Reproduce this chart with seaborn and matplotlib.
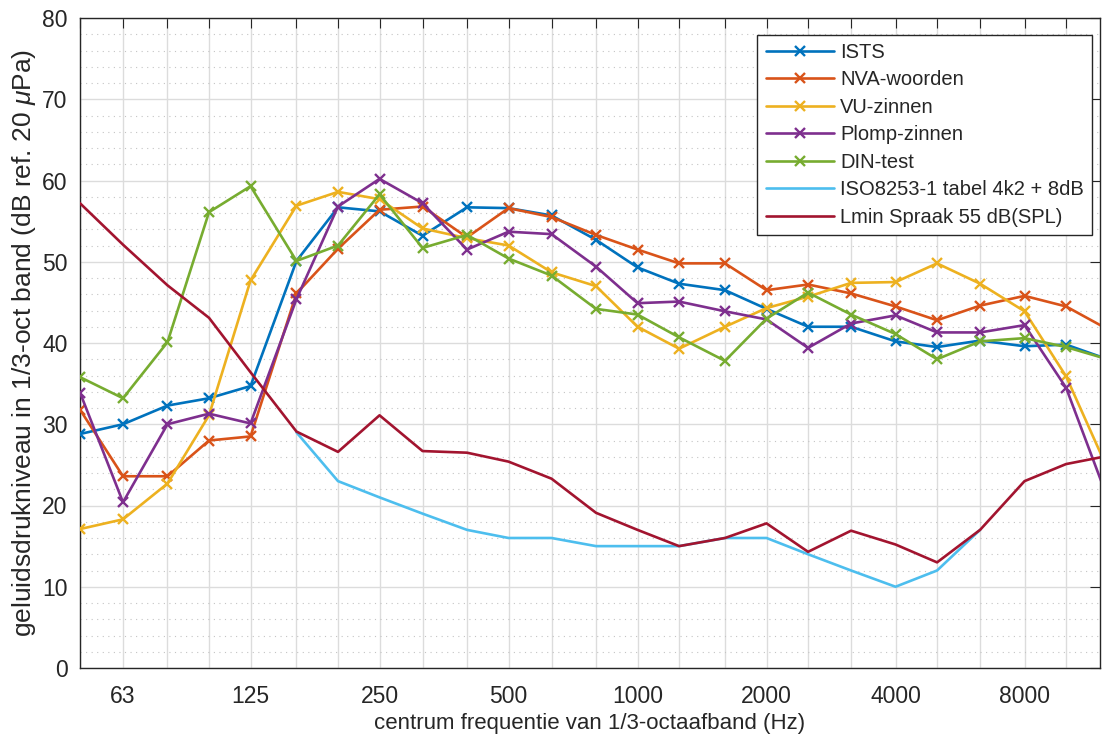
import matplotlib
matplotlib.use("Agg")
import matplotlib.pyplot as plt
from matplotlib.ticker import FixedLocator, FixedFormatter, MultipleLocator, NullLocator
import pandas as pd
import seaborn as sns

# 1/3-octave band centre frequencies (Hz)
freq = [50, 63, 80, 100, 125, 160, 200, 250, 315, 400, 500, 630, 800, 1000,
        1250, 1600, 2000, 2500, 3150, 4000, 5000, 6300, 8000, 10000, 12500]

# band levels in dB re 20 uPa
ists = [28.8, 30.0, 32.3, 33.2, 34.7, 50.1, 56.7, 56.2, 53.2, 56.7, 56.6, 55.7, 52.7,
        49.3, 47.3, 46.5, 44.2, 42.0, 42.0, 40.2, 39.5, 40.3, 39.6, 39.8, 38.0]
nva = [31.8, 23.6, 23.6, 28.0, 28.5, 46.1, 51.6, 56.4, 56.8, 53.0, 56.6, 55.5, 53.3,
       51.5, 49.8, 49.8, 46.5, 47.2, 46.1, 44.5, 42.8, 44.6, 45.8, 44.5, 41.7]
vu = [17.1, 18.3, 22.7, 31.1, 47.7, 56.9, 58.6, 57.7, 54.1, 52.9, 52.0, 48.7, 47.0,
      42.0, 39.3, 42.0, 44.3, 45.7, 47.4, 47.5, 49.8, 47.3, 43.9, 35.9, 24.5]
plomp = [33.9, 20.4, 30.0, 31.3, 30.1, 45.4, 56.8, 60.2, 57.2, 51.5, 53.7, 53.4, 49.4,
         44.9, 45.1, 43.9, 42.9, 39.4, 42.4, 43.4, 41.3, 41.3, 42.2, 34.5, 20.9]
din = [35.8, 33.2, 40.1, 56.1, 59.3, 50.1, 52.0, 58.3, 51.7, 53.3, 50.4, 48.3, 44.2,
       43.5, 40.7, 37.8, 43.0, 46.2, 43.5, 41.1, 38.0, 40.2, 40.6, 39.5, 38.0]
iso_freq = [160, 200, 250, 315, 400, 500, 630, 800, 1000, 1250, 1600, 2000, 2500,
            3150, 4000, 5000, 6300]
iso = [29, 23, 21, 19, 17, 16, 16, 15, 15, 15, 16, 16, 14, 12, 10, 12, 17]
lmin = [57.2, 52.1, 47.1, 43.1, 36.4, 29.1, 26.6, 31.1, 26.7, 26.5, 25.4, 23.3, 19.1,
        17.0, 15.0, 16.0, 17.8, 14.3, 16.9, 15.2, 13.0, 17.0, 23.0, 25.1, 26.1]

series_names = ["ISTS", "NVA-woorden", "VU-zinnen", "Plomp-zinnen", "DIN-test",
                "ISO8253-1 tabel 4k2 + 8dB", "Lmin Spraak 55 dB(SPL)"]
colors = ["#0072BD", "#D95319", "#EDB120", "#7E2F8E", "#77AC30", "#4DBEEE", "#A2142F"]

tick_freqs = freq[:-1]
octave_labels = {63: "63", 125: "125", 250: "250", 500: "500", 1000: "1000",
                 2000: "2000", 4000: "4000", 8000: "8000"}

sns.set_style("white")
plt.rcParams["font.family"] = ["Liberation Sans", "DejaVu Sans"]
plt.rcParams["mathtext.fontset"] = "custom"
plt.rcParams["mathtext.it"] = "Liberation Sans:italic"
plt.rcParams["mathtext.rm"] = "Liberation Sans"

fig = plt.figure(figsize=(11.02, 7.38), dpi=100)
ax = fig.add_axes([80 / 1102, 1 - 668 / 738, 1020 / 1102, 650 / 738])

ink = "#262626"
grid_major = "#dcdcdc"

data = [(freq, ists), (freq, nva), (freq, vu), (freq, plomp), (freq, din),
        (iso_freq, iso), (freq, lmin)]
for i, ((fx, fy), name, col) in enumerate(zip(data, series_names, colors)):
    df = pd.DataFrame({"f": fx, "L": fy})
    if i < 5:
        kw = dict(marker="x", markersize=7, markeredgewidth=1.7,
                  markeredgecolor=col, markerfacecolor=col)
    else:
        kw = dict(marker=None)
    sns.lineplot(data=df, x="f", y="L", ax=ax, color=col, linewidth=1.9,
                 label=name, sort=False, zorder=3 + i, **kw)

ax.set_xscale("log")
ax.set_xlim(50, 12000)
ax.set_ylim(0, 80)

ax.xaxis.set_major_locator(FixedLocator(tick_freqs))
ax.xaxis.set_major_formatter(FixedFormatter([octave_labels.get(f, "") for f in tick_freqs]))
ax.xaxis.set_minor_locator(NullLocator())
ax.yaxis.set_major_locator(MultipleLocator(10))
ax.yaxis.set_minor_locator(MultipleLocator(2))

ax.tick_params(which="major", direction="in", length=7.2, width=0.8, color=ink,
               labelcolor=ink, labelsize=16.5, top=True, right=True)
ax.tick_params(which="minor", length=0, top=True, right=True)
ax.tick_params(axis="x", which="major", pad=12)
ax.tick_params(axis="y", which="major", pad=9)

ax.grid(True, which="major", color=grid_major, linewidth=1.0, linestyle="-", zorder=0)
ax.yaxis.grid(True, which="minor", color="#c4c4c4", linewidth=0.8,
              linestyle=(0, (1, 4)), zorder=0)
ax.set_axisbelow(True)

for sp in ax.spines.values():
    sp.set_visible(True)
    sp.set_color(ink)
    sp.set_linewidth(1.0)

ax.set_xlabel("centrum frequentie van 1/3-octaafband (Hz)", fontsize=16, color=ink,
              labelpad=4)
ax.set_ylabel(r"geluidsdrukniveau in 1/3-oct band (dB ref. 20 $\mu$Pa)", fontsize=19,
              color=ink)
ax.yaxis.set_label_coords(-0.041, 0.5)

leg = ax.legend(loc="upper right", bbox_to_anchor=(0.992, 0.974), borderaxespad=0,
                fontsize=14.5, frameon=True, fancybox=False, framealpha=1,
                edgecolor=ink, handlelength=3.4, handletextpad=0.3,
                labelspacing=0.42, borderpad=0.4, numpoints=1)
leg.get_frame().set_linewidth(1.0)

fig.savefig("out.png", dpi=100)
